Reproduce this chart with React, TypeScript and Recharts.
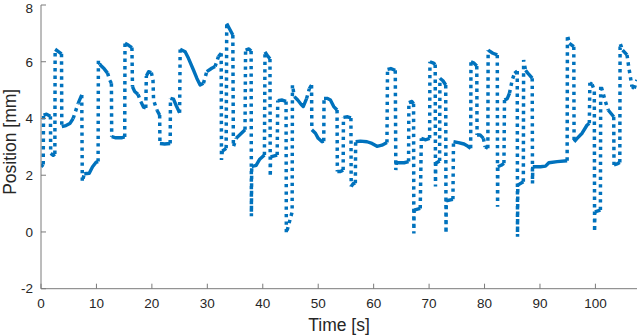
import React from 'react';
import { LineChart, Line, XAxis, YAxis } from 'recharts';

const time = [
  0, 0.4, 0.45, 1.0, 1.7, 1.75, 2.2, 2.5, 2.55, 3.2, 3.7, 3.75, 4.5, 5.2, 5.8, 6.7, 7.35, 7.45, 7.8, 8.7,
  9.3, 9.9, 10.3, 10.35, 10.6, 11.4, 12.0, 12.4, 12.7, 12.75, 13.5, 14.5, 15.1, 15.15, 15.8, 16.4, 16.5, 16.9, 17.5, 18.0,
  18.5, 18.9, 19.0, 19.4, 19.9, 20.2, 20.3, 20.9, 21.4, 21.45, 22.3, 23.3, 23.35, 23.9, 24.4, 25.0, 25.1, 26.0, 26.6, 27.5,
  28.1, 28.7, 29.3, 29.9, 30.8, 31.4, 32.0, 32.5, 32.55, 32.7, 33.4, 33.5, 33.9, 34.6, 34.7, 35.2, 36.0, 36.8, 36.9, 37.5,
  37.9, 37.95, 38.0, 38.8, 39.4, 40.3, 40.4, 40.9, 41.3, 41.35, 41.4, 42.6, 42.7, 43.5, 44.2, 44.25, 45.3, 45.35, 45.7, 46.3,
  46.9, 47.3, 47.9, 48.4, 48.8, 48.85, 49.5, 50.0, 50.7, 51.0, 51.05, 51.6, 52.2, 52.8, 53.4, 53.45, 54.0, 54.5, 54.55, 55.3,
  55.9, 55.95, 56.3, 56.7, 56.75, 57.6, 58.8, 59.7, 60.6, 61.5, 62.4, 62.5, 63.1, 63.9, 64.0, 64.1, 65.5, 66.3, 66.35, 66.9,
  67.2, 67.25, 67.3, 68.4, 68.6, 69.4, 70.1, 70.15, 70.8, 71.1, 71.15, 71.2, 71.9, 71.95, 72.5, 73.0, 73.05, 73.1, 74.3, 74.4,
  75.3, 76.3, 77.0, 77.5, 77.55, 78.1, 78.6, 78.65, 79.2, 79.8, 80.1, 80.6, 80.65, 81.5, 82.3, 82.35, 82.4, 83.0, 83.5, 83.6,
  84.1, 84.5, 85.0, 85.4, 85.9, 85.95, 86.0, 87.0, 87.05, 87.4, 87.8, 88.6, 88.65, 88.7, 90.1, 91.0, 91.6, 93.1, 94.9, 94.95,
  95.3, 96.1, 96.15, 96.7, 97.6, 98.5, 98.9, 99.0, 99.4, 99.8, 99.85, 99.9, 100.9, 100.95, 101.3, 101.8, 102.3, 103.3, 103.35, 103.9,
  104.4, 104.45, 104.9, 105.7, 106.0, 106.3, 106.6, 107.0, 107.5,
];

const position = [
  2.3, 2.38, 4.12, 4.15, 4.08, 2.77, 2.7, 2.75, 6.44, 6.35, 6.28, 3.71, 3.75, 3.82, 4.0, 4.53, 4.83, 1.77, 2.05, 2.07,
  2.3, 2.45, 2.48, 6.06, 5.9, 5.75, 5.6, 5.35, 5.24, 3.36, 3.32, 3.32, 3.35, 6.65, 6.58, 6.5, 5.12, 4.95, 4.85, 4.6,
  4.4, 4.37, 5.5, 5.65, 5.62, 5.36, 4.65, 4.3, 4.12, 3.12, 3.1, 3.12, 4.71, 4.68, 4.45, 4.2, 6.44, 6.35, 6.12, 5.71,
  5.42, 5.18, 5.24, 5.65, 5.77, 5.83, 6.18, 6.3, 2.54, 2.85, 2.95, 7.35, 7.2, 6.94, 3.0, 3.3, 3.45, 3.6, 6.41, 6.45,
  6.38, 0.55, 2.3, 2.35, 2.55, 2.71, 6.35, 6.2, 6.1, 1.95, 2.65, 2.71, 4.63, 4.65, 4.6, -0.05, 0.71, 5.18, 4.77, 4.65,
  4.5, 4.42, 4.7, 5.05, 5.18, 3.6, 3.48, 3.3, 3.18, 3.2, 4.71, 4.71, 4.65, 4.42, 4.3, 2.13, 2.13, 2.18, 4.04, 4.06,
  4.02, 1.6, 1.7, 1.72, 3.18, 3.2, 3.18, 3.12, 3.02, 3.06, 3.15, 5.73, 5.76, 5.7, 2.18, 2.44, 2.44, 2.48, 4.56, 4.6,
  4.52, -0.05, 0.77, 0.83, 3.3, 3.25, 3.3, 6.0, 5.95, 5.9, 1.6, 2.42, 2.5, 5.42, 5.33, 5.18, -0.05, 1.1, 1.15, 3.18,
  3.15, 3.1, 3.02, 2.95, 6.0, 5.95, 5.85, 3.42, 3.42, 3.3, 3.0, 2.95, 6.41, 6.3, 6.24, 0.89, 2.3, 2.35, 2.42, 4.65,
  4.7, 4.89, 5.36, 5.59, 5.67, -0.17, 1.65, 1.77, 6.06, 5.7, 5.6, 5.42, 1.71, 2.3, 2.3, 2.32, 2.44, 2.48, 2.51, 6.94,
  6.65, 6.53, 3.18, 3.3, 3.48, 3.77, 3.83, 5.26, 5.2, 5.0, 0.01, 0.71, 0.77, 5.18, 4.95, 4.6, 4.3, 4.06, 2.36, 2.4,
  2.45, 6.65, 6.41, 6.24, 5.83, 5.47, 5.12, 5.06, 5.36,
];

const xTicks = [0, 10, 20, 30, 40, 50, 60, 70, 80, 90, 100];
const yTicks = [-2, 0, 2, 4, 6, 8];
const xDomain: [number, number] = [0, 107.5];
const yDomain: [number, number] = [-2, 8];

const W = 640;
const H = 336;
const M = { top: 5, right: 3, bottom: 0, left: 0 };
const Y_AXIS_W = 41;
const X_AXIS_H = 47.3;
const PLOT_W = W - M.left - M.right - Y_AXIS_W;
const PLOT_H = H - M.top - M.bottom - X_AXIS_H;

const BLUE = '#0072BD';
const AXIS = '#7a7a7a';
const TEXT = '#262626';
const FONT = '"Liberation Sans", Arial, Helvetica, sans-serif';

type Pt = { t: number; y: number | null };

function buildSeries() {
  const solid: Pt[] = [];
  const dotted: Pt[] = [];
  const pxX = PLOT_W / (xDomain[1] - xDomain[0]);
  const pxY = PLOT_H / (yDomain[1] - yDomain[0]);
  for (let i = 0; i < time.length - 1; i++) {
    const dx = (time[i + 1] - time[i]) * pxX;
    const dy = (position[i + 1] - position[i]) * pxY;
    const fast = Math.abs(dy) > 2.5 * Math.abs(dx);
    const target = fast ? dotted : solid;
    const last = target[target.length - 1];
    if (!last || last.t !== time[i] || last.y !== position[i]) {
      if (last) target.push({ t: time[i], y: null });
      target.push({ t: time[i], y: position[i] });
    }
    target.push({ t: time[i + 1], y: position[i + 1] });
  }
  return { solid, dotted };
}

const { solid, dotted } = buildSeries();

const tickStyle = { fill: TEXT, fontSize: 13.5, fontFamily: FONT };

export default function App() {
  return (
    <div style={{ position: 'absolute', left: 0, top: 0, width: W, height: H, background: '#fff' }}>
      <LineChart width={W} height={H} margin={M}>
        <XAxis
          xAxisId="b"
          dataKey="t"
          type="number"
          domain={xDomain}
          ticks={xTicks}
          allowDataOverflow
          height={X_AXIS_H}
          stroke={AXIS}
          tickSize={-5}
          tickMargin={15}
          tick={tickStyle}
          label={{ value: 'Time [s]', position: 'insideBottom', offset: 5, style: { fill: TEXT, fontSize: 17.5, fontFamily: FONT } }}
        />
        <XAxis
          xAxisId="t"
          orientation="top"
          dataKey="t"
          type="number"
          domain={xDomain}
          ticks={xTicks}
          allowDataOverflow
          height={0}
          stroke={AXIS}
          tickSize={-5}
          tick={() => <g />}
        />
        <YAxis
          yAxisId="l"
          type="number"
          domain={yDomain}
          ticks={yTicks}
          allowDataOverflow
          width={Y_AXIS_W}
          stroke={AXIS}
          tickSize={-5}
          tickMargin={13}
          tick={tickStyle}
          label={{ value: 'Position [mm]', angle: -90, position: 'insideLeft', offset: 9.5, dy: -5, style: { textAnchor: 'middle', fill: TEXT, fontSize: 17.5, fontFamily: FONT } }}
        />
        <YAxis
          yAxisId="r"
          orientation="right"
          type="number"
          domain={yDomain}
          ticks={yTicks}
          allowDataOverflow
          width={0}
          stroke={AXIS}
          tickSize={-5}
          tick={() => <g />}
        />
        <Line
          xAxisId="b"
          yAxisId="l"
          data={solid}
          dataKey="y"
          type="linear"
          stroke={BLUE}
          strokeWidth={3.4}
          strokeLinejoin="round"
          dot={false}
          activeDot={false}
          connectNulls={false}
          isAnimationActive={false}
        />
        <Line
          xAxisId="b"
          yAxisId="l"
          data={dotted}
          dataKey="y"
          type="linear"
          stroke={BLUE}
          strokeWidth={3.5}
          strokeDasharray="3.4 4.1"
          strokeLinecap="butt"
          dot={false}
          activeDot={false}
          connectNulls={false}
          isAnimationActive={false}
        />
      </LineChart>
    </div>
  );
}
